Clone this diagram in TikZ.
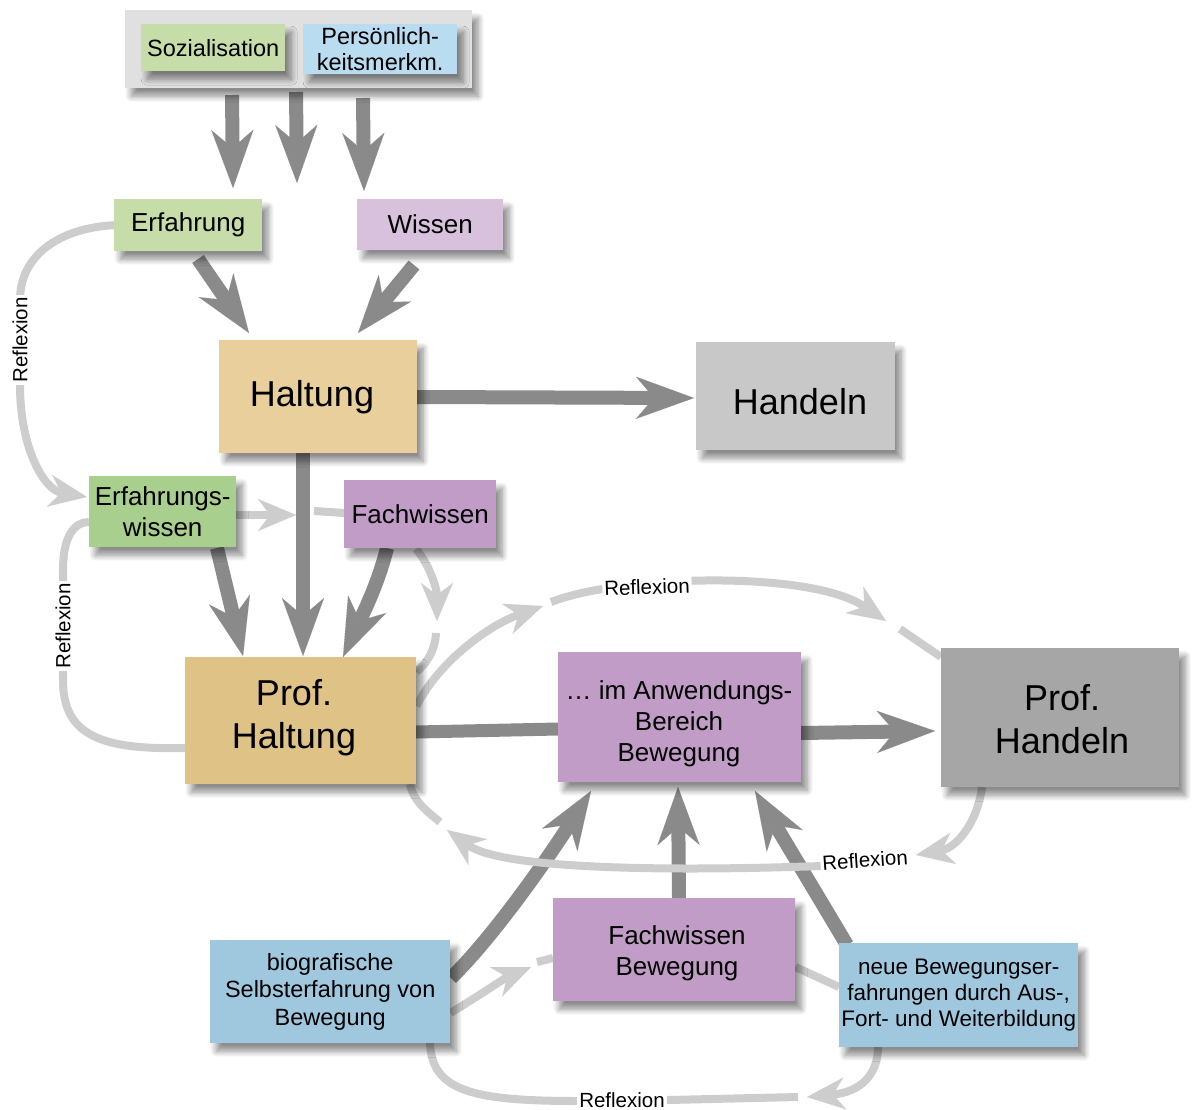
\documentclass[tikz,border=0pt]{standalone}
\usepackage{fontspec}
\setmainfont{Liberation Sans}
\usetikzlibrary{arrows.meta,shadows.blur}
\newcommand\fsz[2]{\fontsize{#1pt}{#2pt}\selectfont}
\pgfdeclarelayer{back}
\pgfdeclarelayer{bg}
\pgfsetlayers{back,bg,main}
\definecolor{grpc}{HTML}{E0E0E0}
\definecolor{gra}{HTML}{C6DCA9}
\definecolor{grb}{HTML}{A9CF8E}
\definecolor{bla}{HTML}{B9DCF0}
\definecolor{blb}{HTML}{9FC8DF}
\definecolor{pka}{HTML}{D8C1DC}
\definecolor{pub}{HTML}{C19CC7}
\definecolor{tana}{HTML}{E8CF9C}
\definecolor{tanb}{HTML}{DFC285}
\definecolor{gya}{HTML}{C8C8C8}
\definecolor{gyb}{HTML}{A6A6A6}
\definecolor{darkarrow}{HTML}{8A8A8A}
\definecolor{lightarrow}{HTML}{CDCDCD}
\tikzset{
 box/.style={rectangle, inner sep=0pt, align=center, anchor=north west, text=black,
   blur shadow={shadow xshift=6pt, shadow yshift=-8pt, shadow blur radius=6pt, shadow blur steps=10, shadow opacity=45}},
 txt/.style={inner sep=0pt, align=center, text=black},
 darr/.style={draw=darkarrow, line width=14pt, -{Stealth[length=58pt,width=42pt,inset=18pt,line width=0.01pt]}},
 dline/.style={draw=darkarrow, line width=13pt},
 larr/.style={draw=lightarrow, line width=8pt, -{Stealth[length=38pt,width=32pt,inset=12pt,line width=0.01pt]}},
 lline/.style={draw=lightarrow, line width=8pt},
 refl/.style={fill=white, inner sep=2pt, font=\fsz{20.5}{24}, text=black},
}
\begin{document}
\begin{tikzpicture}[x=1pt,y=-1pt]
\useasboundingbox (0,0) rectangle (1193,1110);
\begin{pgfonlayer}{back}
\fill[white] (0,0) rectangle (1193,1110);
\fill[white, fill opacity=0.5] (0,0) rectangle (2,2);
\end{pgfonlayer}
% off-page warm-up of the shadow machinery
\node[box, fill=white, minimum width=10pt, minimum height=10pt] (warmup) at (-400,-400) {};

% boxes
\node[box, fill=grpc, minimum width=347pt, minimum height=78pt] (grp) at (125,10) {};
\node[box, fill=gra, minimum width=144pt, minimum height=47pt, font=\fsz{23.5}{26}] (soz) at (141,24) {Sozialisation};
\node[box, fill=bla, minimum width=154pt, minimum height=50pt, font=\fsz{23.5}{26}] (pers) at (303,24) {Persönlich-\\keitsmerkm.};
\node[box, fill=gra, minimum width=148pt, minimum height=52pt, font=\fsz{26}{31}] (erf) at (114,199) {Erfahrung};
\node[box, fill=pka, minimum width=146pt, minimum height=51pt, font=\fsz{26}{31}] (wis) at (357,199) {Wissen};
\node[box, fill=tana, minimum width=198pt, minimum height=113pt] (halt) at (219,340) {};
\node[txt, font=\fsz{36}{43}] (haltt) at (312,397) {Haltung};
\node[box, fill=gya, minimum width=199pt, minimum height=108pt] (hand) at (696,342) {};
\node[txt, font=\fsz{36}{43}] (handt) at (800,402) {Handeln};
\node[box, fill=grb, minimum width=147pt, minimum height=71pt, font=\fsz{26}{31}] (ew) at (89,476) {Erfahrungs-\\wissen};
\node[box, fill=pub, minimum width=152pt, minimum height=68pt, font=\fsz{26}{31}] (fw) at (344,480) {Fachwissen};
\node[box, fill=tanb, minimum width=231pt, minimum height=127pt] (ph) at (185,657) {};
\node[txt, font=\fsz{36}{43}] (pht) at (294,718) {Prof.\\Haltung};
\node[box, fill=pub, minimum width=243pt, minimum height=130pt] (anw) at (558,652) {};
\node[txt, font=\fsz{26}{31}] (anwt) at (679,724) {… im Anwendungs-\\Bereich\\Bewegung};
\node[box, fill=gyb, minimum width=238pt, minimum height=139pt] (phd) at (941,648) {};
\node[txt, font=\fsz{36}{43}] (phdt) at (1062,719) {Prof.\\Handeln};
\node[box, fill=pub, minimum width=242pt, minimum height=103pt] (fwb) at (553,898) {};
\node[txt, font=\fsz{26}{31}] (fwbt) at (677,953) {Fachwissen\\Bewegung};
\node[box, fill=blb, minimum width=240pt, minimum height=103pt, font=\fsz{23.5}{27.5}] (bio) at (210,940) {biografische\\Selbsterfahrung von\\Bewegung};
\node[box, fill=blb, minimum width=239pt, minimum height=104pt, font=\fsz{22.5}{26}] (neu) at (839,943) {neue Bewegungser-\\fahrungen durch Aus-,\\Fort- und Weiterbildung};

% connector end points
\coordinate (s1) at (232,95);  \coordinate (e1) at (233,188);
\coordinate (s2) at (296,92);  \coordinate (e2) at (297,183);
\coordinate (s3) at (363,98);  \coordinate (e3) at (364,191);
\coordinate (erfs) at (198,259); \coordinate (halti1) at (249,333);
\coordinate (wiss) at (414,265); \coordinate (halti2) at (358,333);
\coordinate (halto) at (417,397); \coordinate (handi) at (694,398);
\coordinate (halts) at (303,453); \coordinate (phi1) at (303,656);
\coordinate (ews) at (217,548); \coordinate (phi2) at (243,656);
\coordinate (fws) at (387,548); \coordinate (phi3) at (343,657);
\coordinate (pho) at (416,732); \coordinate (anwi) at (558,729);
\coordinate (anwo) at (801,733); \coordinate (phdi) at (935,731);
\coordinate (bios) at (451,978); \coordinate (anwa) at (591,791);
\coordinate (fwbs) at (679,898); \coordinate (anwb) at (678,787);
\coordinate (neus) at (847,945); \coordinate (anwc) at (755,791);

\begin{pgfonlayer}{bg}
% dark arrows
\draw[darr] (s1) -- (e1);
\draw[darr] (s2) -- (e2);
\draw[darr] (s3) -- (e3);
\draw[darr] (erfs) -- (halti1);
\draw[darr] (wiss) -- (halti2);
\draw[darr] (halto) -- (handi);
\draw[darr] (halts) -- (phi1);
\draw[darr] (ews) -- (phi2);
\draw[darr] (fws) .. controls (378,585) and (360,620) .. (phi3);
\draw[dline] (pho) -- (anwi);
\draw[darr] (anwo) -- (phdi);
\draw[darr] (bios) .. controls (495,935) and (550,855) .. (anwa);
\draw[darr] (fwbs) -- (anwb);
\draw[darr] (neus) -- (anwc);

% light reflexion connectors
% Erfahrung -> Erfahrungswissen
\draw[larr] (erf.west) .. controls (60,228) and (20,255) .. (20,300) -- (20,385) .. controls (20,450) and (45,490) .. (87,497);
% Prof. Haltung -> Erfahrungswissen
\draw[lline] (185,748) .. controls (100,750) and (63,735) .. (63,680) -- (63,570) .. controls (63,535) and (75,522) .. (ew.west |- 0,522);
% Erfahrungswissen -> Fachwissen
\draw[larr] (ew.east |- 0,515) -- (296,515);
\draw[lline] (314,511) -- (fw.west |- 0,513);
% Fachwissen -> Prof. Haltung
\draw[larr] (416,549) .. controls (430,565) and (437,590) .. (437,621);
\draw[lline] (436,633) .. controls (435,650) and (428,662) .. (ph.east |- 0,672);
% Prof. Haltung -> Prof. Handeln (upper)
\draw[larr] (ph.east |- 0,706) .. controls (440,660) and (490,625) .. (543,606);
\draw[larr] (551,602) .. controls (620,575) and (810,570) .. (886,621);
\draw[lline] (900,629) -- (phd.north west |- 0,657);
% Prof. Handeln -> Prof. Haltung (lower)
\draw[larr] (982,787) .. controls (977,825) and (955,848) .. (916,855);
\draw[larr] (822,866) .. controls (650,872) and (500,868) .. (447,830);
\draw[lline] (440,822) .. controls (425,810) and (413,800) .. (410,784);
% biografische -> Fachwissen Bewegung
\draw[larr] (bio.east |- 0,1013) .. controls (480,995) and (505,978) .. (531,967);
\draw[lline] (537,962) -- (fwb.west |- 0,958);
% Fachwissen Bewegung -> neue
\draw[lline] (fwb.east |- 0,967) -- (neu.west |- 0,987);
% neue -> biografische (bottom)
\draw[larr] (878,1047) .. controls (878,1075) and (860,1092) .. (807,1097);
\draw[lline] (798,1097) -- (668,1100) -- (577,1101) .. controls (470,1101) and (432,1090) .. (430,1043);
\end{pgfonlayer}

% labels
\node[refl, rotate=90] (r1) at (20,340) {Reflexion};
\node[refl, rotate=90] (r2) at (63,626) {Reflexion};
\node[refl, rotate=2] (r3) at (647,587) {Reflexion};
\node[refl, rotate=4] (r4) at (865,860) {Reflexion};
\node[refl] (r5) at (622,1100) {Reflexion};
\end{tikzpicture}
\end{document}
